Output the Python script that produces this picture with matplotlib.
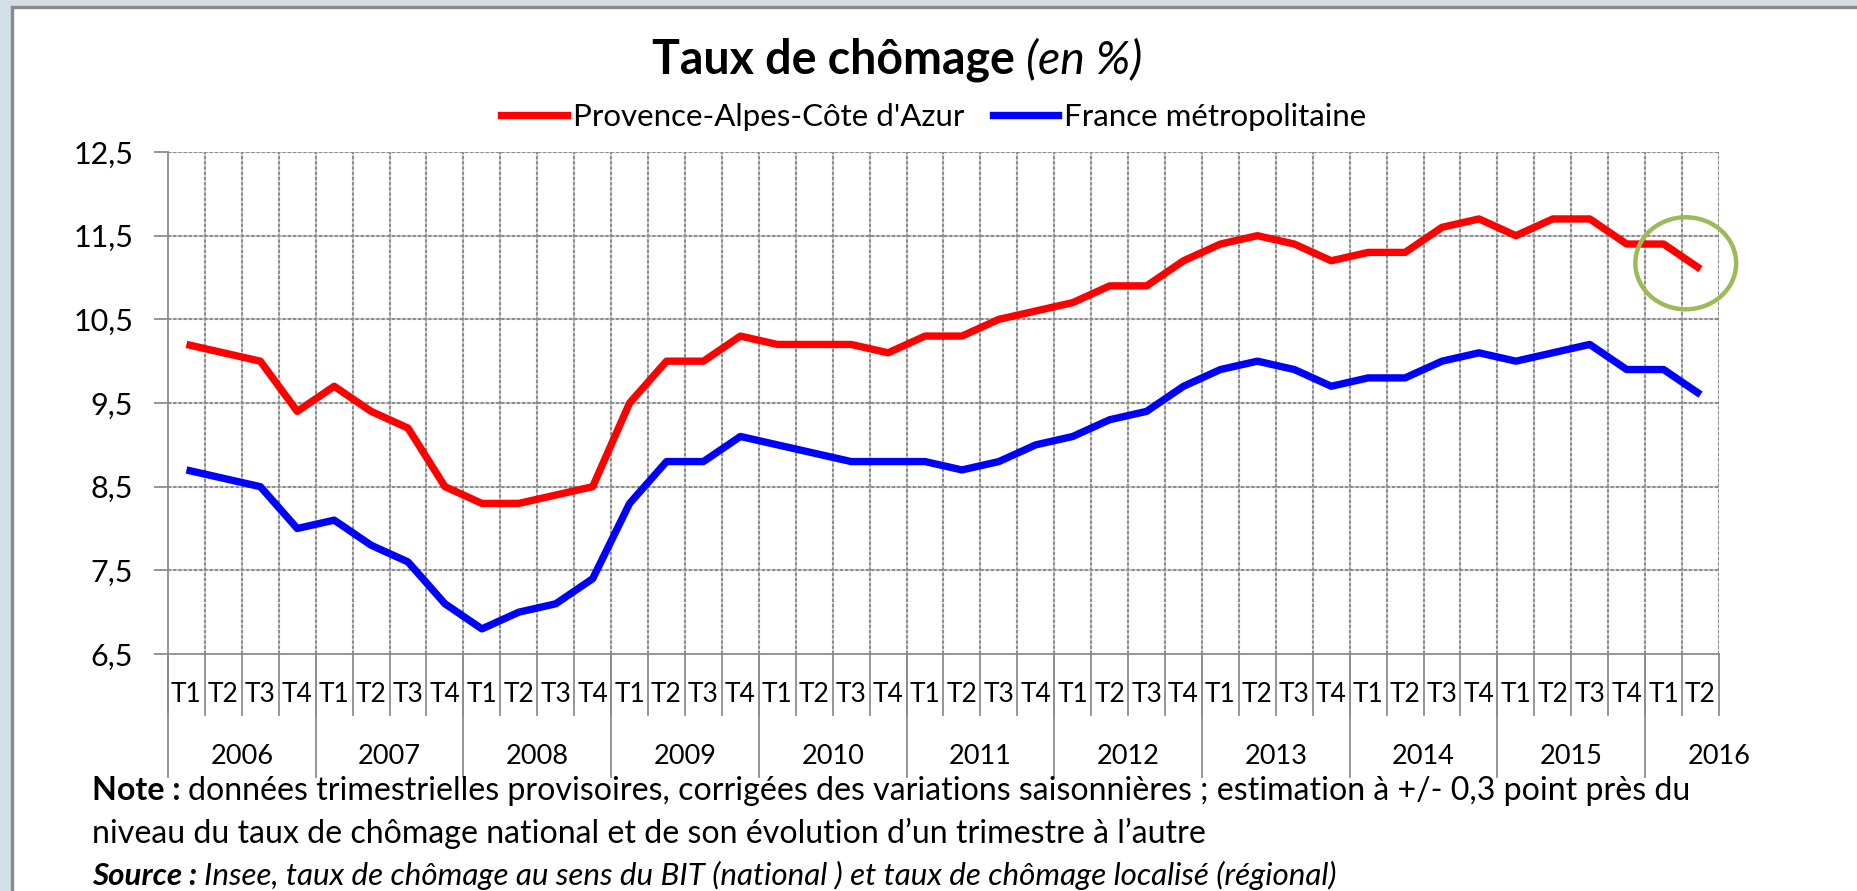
import matplotlib.pyplot as plt
from matplotlib.patches import Rectangle, Ellipse
import matplotlib.transforms as mtransforms

plt.rcParams['font.family'] = ['Lato', 'DejaVu Sans']

years = ['2006', '2007', '2008', '2009', '2010', '2011', '2012', '2013', '2014', '2015', '2016']
year_sizes = [4, 4, 4, 4, 4, 4, 4, 4, 4, 4, 2]
quarters = ['T1', 'T2', 'T3', 'T4'] * 10 + ['T1', 'T2']

paca = [10.2, 10.1, 10.0, 9.4, 9.7, 9.4, 9.2, 8.5, 8.3, 8.3, 8.4, 8.5,
        9.5, 10.0, 10.0, 10.3, 10.2, 10.2, 10.2, 10.1, 10.3, 10.3, 10.5, 10.6,
        10.7, 10.9, 10.9, 11.2, 11.4, 11.5, 11.4, 11.2, 11.3, 11.3, 11.6, 11.7,
        11.5, 11.7, 11.7, 11.4, 11.4, 11.1]
france = [8.7, 8.6, 8.5, 8.0, 8.1, 7.8, 7.6, 7.1, 6.8, 7.0, 7.1, 7.4,
          8.3, 8.8, 8.8, 9.1, 9.0, 8.9, 8.8, 8.8, 8.8, 8.7, 8.8, 9.0,
          9.1, 9.3, 9.4, 9.7, 9.9, 10.0, 9.9, 9.7, 9.8, 9.8, 10.0, 10.1,
          10.0, 10.1, 10.2, 9.9, 9.9, 9.6]
yticks = [6.5, 7.5, 8.5, 9.5, 10.5, 11.5, 12.5]

W, H = 1858, 891
fig = plt.figure(figsize=(W / 100, H / 100), dpi=100)
fig.patch.set_facecolor('#D3DFE6')
# white slide panel with grey border
fig.add_artist(Rectangle((12 / W, -0.05), 1.2, 1.05 - 7 / H, transform=fig.transFigure,
                         facecolor='white', edgecolor='#8A8A8A', lw=2.4, zorder=-10))

L, R, T, B = 168, 1719, 152, 654
ax = fig.add_axes([L / W, 1 - B / H, (R - L) / W, (B - T) / H])
ax.set_facecolor('none')

n = len(paca)
x = list(range(n))
ax.plot(x, paca, color='#FF0000', lw=5.3, solid_joinstyle='round', solid_capstyle='butt', zorder=4)
ax.plot(x, france, color='#0000FF', lw=5.3, solid_joinstyle='round', solid_capstyle='butt', zorder=4)

ax.set_xlim(-0.5, n - 0.5)
ax.set_ylim(yticks[0], yticks[-1])

# grid: light line under short dark dashes
grid_kw = dict(color='#8C8C8C', lw=1.5, linestyle=(0, (1.5, 1.0)), zorder=1)
under_kw = dict(color='#D2D2D2', lw=1.5, zorder=0.9)
for v in yticks[1:]:
    ax.axhline(v, **under_kw)
    ax.axhline(v, **grid_kw)
for k in range(n):
    ax.axvline(k + 0.5, **under_kw)
    ax.axvline(k + 0.5, **grid_kw)

for s in ['top', 'right']:
    ax.spines[s].set_visible(False)
for s in ['left', 'bottom']:
    ax.spines[s].set_color('#8C8C8C')
    ax.spines[s].set_linewidth(1.3)

ax.set_yticks(yticks)
ax.set_yticklabels([f'{v:.1f}'.replace('.', ',') for v in yticks], fontsize=22)
ax.tick_params(axis='y', length=10, width=1.3, color='#8C8C8C', pad=15)
ax.set_xticks([])

# category labels and separators below the axis
tr = mtransforms.blended_transform_factory(ax.transData, ax.transAxes)
ph = B - T
for i, q in enumerate(quarters):
    ax.text(i, -(695 - B) / ph, q, transform=tr, ha='center', va='center', fontsize=19)
for k in range(n + 1):
    ax.plot([k - 0.5, k - 0.5], [0, -(715 - B) / ph], transform=tr, color='#8C8C8C',
            lw=1.3, clip_on=False)
start = 0
for yr, size in zip(years, year_sizes):
    ax.plot([start - 0.5, start - 0.5], [0, -(777 - B) / ph], transform=tr,
            color='#8C8C8C', lw=1.3, clip_on=False)
    if size == 4:
        xc = start + size / 2 - 0.5
    else:
        xc = start + size - 0.5
    ax.text(xc, -(757 - B) / ph, yr, transform=tr, ha='center', va='center', fontsize=19.5)
    start += size

# highlight circle around the last quarters
cx = sum(x[-2:]) / 2 + 0.1
cy = sum(paca[-2:]) / 2 - 0.08
ax.add_patch(Ellipse((cx, cy), 2.73, 1.1, fill=False, edgecolor='#9BBB59', lw=3.2,
                     zorder=5, clip_on=False))

# legend
h1, = ax.plot([], [], color='#FF0000', lw=5.3)
h2, = ax.plot([], [], color='#0000FF', lw=5.3)
fig.legend([h1, h2], ["Provence-Alpes-Côte d'Azur", 'France métropolitaine'],
           loc='center', bbox_to_anchor=(934 / W, 1 - 117 / H), ncol=2, frameon=False,
           fontsize=22.5, handlelength=2.1, handletextpad=0.2, columnspacing=0.9)

renderer = fig.canvas.get_renderer()


def runs(items, x0, yb, center=False):
    objs = []
    xpos = x0
    for txt, kw in items:
        t = fig.text(xpos / W, 1 - yb / H, txt, va='baseline', ha='left', **kw)
        bb = t.get_window_extent(renderer)
        xpos += bb.width
        objs.append(t)
    if center:
        shift = (xpos - x0) / 2
        for t in objs:
            px, py = t.get_position()
            t.set_position((px - shift / W, py))
    return objs


runs([('Taux de chômage ', dict(fontsize=33.5, fontweight='bold')),
      ('(en %)', dict(fontsize=33.5, fontstyle='italic'))], 897, 73, center=True)

runs([('Note : ', dict(fontsize=23.1, fontweight='bold')),
      ('données trimestrielles provisoires, corrigées des variations saisonnières ; '
       'estimation à +/- 0,3 point près du', dict(fontsize=23.1))], 92, 800)
runs([('niveau du taux de chômage national et de son évolution d’un trimestre à l’autre',
       dict(fontsize=23.1))], 92, 843)
runs([('Source : ', dict(fontsize=22.6, fontweight='bold', fontstyle='italic')),
      ('Insee, taux de chômage au sens du BIT (national ) et taux de chômage localisé (régional)',
       dict(fontsize=22.6, fontstyle='italic'))], 92, 885)

fig.savefig('out.png', dpi=100, facecolor=fig.get_facecolor())
